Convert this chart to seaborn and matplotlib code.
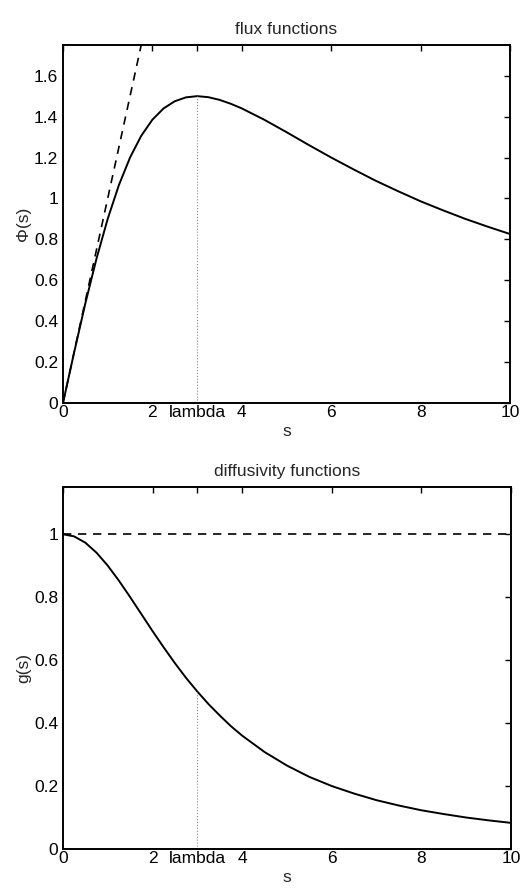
import numpy as np
import pandas as pd
import matplotlib
matplotlib.use("Agg")
import matplotlib.pyplot as plt
import seaborn as sns

# values
s_vals = [0, 0.25, 0.5, 0.75, 1, 1.25, 1.5, 1.75, 2, 2.25, 2.5, 2.75, 3, 3.25, 3.5, 3.75,
          4, 4.5, 5, 5.5, 6, 6.5, 7, 7.5, 8, 8.5, 9, 9.5, 10]
flux_vals = [0, 0.248, 0.487, 0.706, 0.900, 1.065, 1.200, 1.306, 1.385, 1.440, 1.475, 1.494,
             1.500, 1.495, 1.482, 1.463, 1.440, 1.385, 1.324, 1.261, 1.200, 1.142, 1.086,
             1.035, 0.986, 0.942, 0.900, 0.862, 0.826]
diff_vals = [1.0, 0.993, 0.973, 0.941, 0.900, 0.852, 0.800, 0.746, 0.692, 0.640, 0.590, 0.543,
             0.500, 0.460, 0.424, 0.390, 0.360, 0.308, 0.265, 0.229, 0.200, 0.176, 0.155,
             0.138, 0.123, 0.111, 0.100, 0.091, 0.083]
lin_s = [0, 1.8]
lin_flux = [0, 1.8]
const_s = [0, 10]
const_g = [1, 1]
lam = 3
lam_flux = 1.5
lam_g = 0.5

xticks = [0, 2, 3, 4, 6, 8, 10]
xticklabels = ["0", "2", "lambda", "4", "6", "8", "10"]

df = pd.DataFrame({"s": s_vals, "flux": flux_vals, "g": diff_vals})

sns.set_style("white")
plt.rcParams["font.family"] = ["Liberation Sans", "DejaVu Sans"]
plt.rcParams["font.size"] = 12.5

fig = plt.figure(figsize=(5.32, 8.89), dpi=100)
ax1 = fig.add_axes([63 / 532, 1 - 403 / 889, 447 / 532, 358 / 889])
ax2 = fig.add_axes([63 / 532, 1 - 849 / 889, 448 / 532, 362 / 889])

# flux functions
sns.lineplot(data=df, x="s", y="flux", ax=ax1, color="black", lw=1.4)
sns.lineplot(x=lin_s, y=lin_flux, ax=ax1, color="black", lw=1.2, linestyle=(0, (5, 4)))
ax1.plot([lam, lam], [0, lam_flux], color="0.55", lw=0.8, linestyle=":")
ax1.set_xlim(0, 10)
ax1.set_ylim(0, 1.75)
ax1.set_yticks([0, 0.2, 0.4, 0.6, 0.8, 1, 1.2, 1.4, 1.6])
ax1.set_yticklabels(["0", "0.2", "0.4", "0.6", "0.8", "1", "1.2", "1.4", "1.6"])
ax1.set_title("flux functions", fontsize=12.5, pad=8)
ax1.set_ylabel("\u03a6(s)", labelpad=2)

# diffusivity functions
sns.lineplot(data=df, x="s", y="g", ax=ax2, color="black", lw=1.4)
sns.lineplot(x=const_s, y=const_g, ax=ax2, color="black", lw=1.2, linestyle=(0, (5, 4)))
ax2.plot([lam, lam], [0, lam_g], color="0.55", lw=0.8, linestyle=":")
ax2.set_xlim(0, 10)
ax2.set_ylim(0, 1.15)
ax2.set_yticks([0, 0.2, 0.4, 0.6, 0.8, 1])
ax2.set_yticklabels(["0", "0.2", "0.4", "0.6", "0.8", "1"])
ax2.set_title("diffusivity functions", fontsize=12.5, pad=8)
ax2.set_ylabel("g(s)", labelpad=2)

for ax in (ax1, ax2):
    ax.set_xticks(xticks)
    ax.set_xticklabels(xticklabels)
    ax.set_xlabel("s", labelpad=3)
    ax.tick_params(direction="in", length=4, width=1, top=True, right=True,
                   labelsize=12.5, colors="black")
    ax.tick_params(axis="x", pad=1.5)
    ax.tick_params(axis="y", pad=3.5)
    for sp in ax.spines.values():
        sp.set_visible(True)
        sp.set_linewidth(1.4)
        sp.set_color("black")

fig.savefig("out.png", dpi=100)
